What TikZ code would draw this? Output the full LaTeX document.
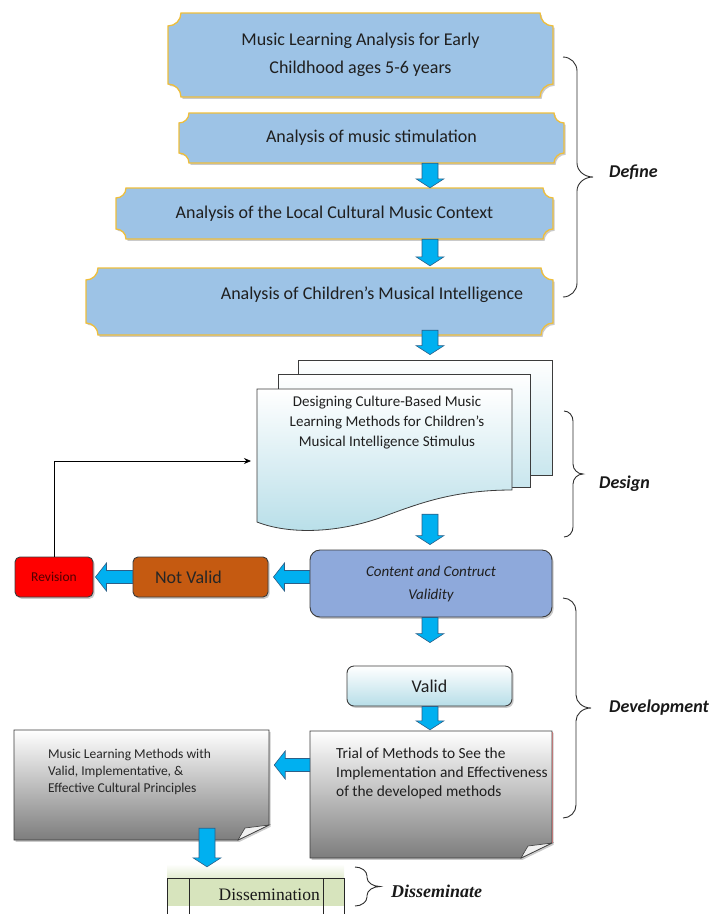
\documentclass[tikz,border=0pt]{standalone}
\usepackage{fontspec}
\setmainfont{Carlito}
\newfontfamily\tnr{Liberation Serif}
\usetikzlibrary{calc,shadows,arrows.meta}
\definecolor{plaqfill}{RGB}{157,195,230}
\definecolor{plaqline}{RGB}{238,190,60}
\definecolor{blkfill}{RGB}{0,176,240}
\definecolor{blkline}{RGB}{45,95,135}
\definecolor{docblue}{RGB}{183,222,232}
\definecolor{cvfill}{RGB}{142,169,219}
\definecolor{nvfill}{RGB}{197,90,17}
\definecolor{revtext}{RGB}{80,0,0}
\definecolor{grayb}{RGB}{125,125,125}
\definecolor{disgreen}{RGB}{215,228,189}
\definecolor{edge}{RGB}{60,60,60}
\definecolor{brcol}{RGB}{45,45,45}
\definecolor{redge}{RGB}{190,120,120}

\newcommand\plaque[5]{%
 \path[plaq] ({#1+#5},#2) -- ({#3-#5},#2)
 .. controls ({#3-#5},{#2+0.55*#5}) and ({#3-0.55*#5},{#2+#5}) .. (#3,{#2+#5})
 -- (#3,{#4-#5})
 .. controls ({#3-0.55*#5},{#4-#5}) and ({#3-#5},{#4-0.55*#5}) .. ({#3-#5},#4)
 -- ({#1+#5},#4)
 .. controls ({#1+#5},{#4-0.55*#5}) and ({#1+0.55*#5},{#4-#5}) .. (#1,{#4-#5})
 -- (#1,{#2+#5})
 .. controls ({#1+0.55*#5},{#2+#5}) and ({#1+#5},{#2+0.55*#5}) .. ({#1+#5},#2)
 -- cycle;}

\newcommand\foldbox[4]{%
 \path[foldb] (#1,#2) -- (#3,#2) -- (#3,{#4-15}) -- ({#3-31},#4) -- (#1,#4) -- cycle;
 \path[foldf] ({#3-31},#4) .. controls ({#3-27},{#4-7}) .. ({#3-24},{#4-12}) -- (#3,{#4-15}) -- cycle;}

\newcommand\wbrace[6]{%
 \draw[brc] (#1,#2) .. controls ({#1+0.55*#4},#2) and ({#1+#4},{#2+0.45*#6}) .. ({#1+#4},{#2+#6})
 -- ({#1+#4},{(#2+#3)/2-#6}) .. controls ({#1+#4},{(#2+#3)/2-0.45*#6}) and ({#1+#4+0.45*#5},{(#2+#3)/2}) .. ({#1+#4+#5},{(#2+#3)/2})
 .. controls ({#1+#4+0.45*#5},{(#2+#3)/2}) and ({#1+#4},{(#2+#3)/2+0.45*#6}) .. ({#1+#4},{(#2+#3)/2+#6})
 -- ({#1+#4},{#3-#6}) .. controls ({#1+#4},{#3-0.45*#6}) and ({#1+0.55*#4},#3) .. (#1,#3);}

\newcommand\blkdown[2]{%
 \path[blk] let \p1=#1, \p2=#2 in (\x1-8pt,\y1) -- (\x1+8pt,\y1) -- (\x1+8pt,\y2+9pt) -- (\x1+14pt,\y2+9pt) -- (\x1,\y2) -- (\x1-14pt,\y2+9pt) -- (\x1-8pt,\y2+9pt) -- cycle;}
\newcommand\blkleft[2]{%
 \path[blk] let \p1=#1, \p2=#2 in (\x1,\y1+6.5pt) -- (\x1,\y1-6.5pt) -- (\x2+11pt,\y1-6.5pt) -- (\x2+11pt,\y1-14pt) -- (\x2,\y1) -- (\x2+11pt,\y1+14pt) -- (\x2+11pt,\y1+6.5pt) -- cycle;}

\begin{document}
\begin{tikzpicture}[x=1pt,y=-1pt,
 shad/.style={drop shadow={shadow xshift=1.6pt,shadow yshift=-1.8pt,opacity=.35,fill=black!60}},
 plaq/.style={fill=plaqfill,draw=plaqline,line width=1.3pt,shad},
 ptext/.style={inner sep=0pt,align=center,font=\fontsize{18}{28}\selectfont,text=black!88},
 blk/.style={fill=blkfill,draw=blkline,line width=0.6pt,line join=miter},
 page/.style={draw=edge,line width=0.8pt,top color=white,bottom color=docblue!75,inner sep=0pt},
 foldb/.style={draw=edge,line width=0.9pt,top color=white,bottom color=grayb,shad},
 foldf/.style={draw=edge,line width=0.6pt,fill=white!88!gray},
 brc/.style={draw=brcol,line width=0.9pt},
 lbl/.style={font=\fontsize{18}{20}\selectfont\bfseries\itshape,inner sep=0pt,anchor=west,text=black!90},
 rbox/.style={draw=edge,line width=0.9pt,rounded corners=5pt,inner sep=0pt,shad},
 fbk/.style={draw=black,line width=0.8pt,-{Stealth[length=7pt,width=6pt]}},
 tline/.style={draw=black!85,line width=0.9pt}
]
\useasboundingbox (0,0) rectangle (716,914);

% ---------- Define ----------
\plaque{168}{13}{553}{97}{13}
\plaque{179}{113}{564}{163}{10}
\plaque{116}{188}{553}{239}{10}
\plaque{86}{268}{553}{335}{12}
\node[ptext,minimum width=385pt,minimum height=84pt] (b1) at (360.5,55) {Music Learning Analysis for Early\\Childhood ages 5-6 years};
\node[ptext,minimum width=385pt,minimum height=50pt] (b2) at (371.5,138) {Analysis of music stimulation};
\node[ptext,minimum width=437pt,minimum height=51pt] (b3) at (334.5,213.5) {Analysis of the Local Cultural Music Context};
\node[inner sep=0pt,minimum width=467pt,minimum height=67pt] (b4) at (319.5,301.5) {};
\node[ptext] (b4t) at (372,295) {Analysis of Children's Musical Intelligence};

\coordinate (ax) at (430,0);
\coordinate (mx) at (207,0);

% ---------- Design ----------
\node[page,minimum width=254pt,minimum height=115pt] (pg3) at (425,417.5) {};
\node[page,minimum width=252pt,minimum height=113pt] (pg2) at (404,430.5) {};
\path[draw=edge,line width=0.8pt,top color=white,bottom color=docblue]
 (257,389) -- (512,389) -- (512,490)
 .. controls (455,490) and (420,503) .. (385,516)
 .. controls (340,533) and (290,535) .. (257,522) -- cycle;
\node[inner sep=0pt,minimum width=255pt,minimum height=133pt] (doc) at (384.5,455.5) {};
\node[inner sep=0pt,align=center,font=\fontsize{15}{20}\selectfont,text=black!88] (doct) at (387,423) {Designing Culture-Based Music\\Learning Methods for Children's\\Musical Intelligence Stimulus};
\coordinate (docin) at (251,461);

% ---------- Validation ----------
\node[rbox,fill=cvfill,rounded corners=10pt,minimum width=242pt,minimum height=67pt,align=center,font=\fontsize{15}{23}\selectfont\itshape,text=black!88] (cv) at (431,583.5) {Content and Contruct\\Validity};
\node[rbox,fill=nvfill,minimum width=135pt,minimum height=40pt,font=\fontsize{18}{20}\selectfont,text=black!85] (nv) at (200.5,577) {\hspace*{-24pt}Not Valid};
\node[rbox,fill=red,minimum width=78pt,minimum height=40pt,font=\fontsize{13.5}{15}\selectfont,text=revtext] (rev) at (54,577) {Revision};
\node[rbox,rounded corners=7pt,top color=white,bottom color=docblue,minimum width=165pt,minimum height=40pt,font=\fontsize{18}{20}\selectfont,text=black!88] (va) at (429.5,686) {Valid};

% ---------- Development ----------
\foldbox{310}{731}{552}{858}
\draw[redge,line width=0.6pt] (552,732) -- (552,843);
\node[inner sep=0pt,minimum width=242pt,minimum height=127pt] (tr) at (431,794.5) {};
\node[inner sep=0pt,anchor=north west,align=left,font=\fontsize{15.4}{19}\selectfont,text=black!88] (trt) at (336,748) {Trial of Methods to See the\\Implementation and Effectiveness\\of the developed methods};
\foldbox{14}{730}{269}{840}
\node[inner sep=0pt,minimum width=255pt,minimum height=110pt] (mu) at (141.5,785) {};
\node[inner sep=0pt,anchor=north west,align=left,font=\fontsize{13.5}{17}\selectfont,text=black!85] (mut) at (48,749) {Music Learning Methods with\\Valid, Implementative, \&\\Effective Cultural Principles};

% ---------- Disseminate ----------
\path[top color=white,bottom color=disgreen!70] (167,864) rectangle (344,878);
\fill[disgreen] (167,878) rectangle (344,906);
\draw[tline] (167,914) -- (167,878) -- (344,878) -- (344,914);
\draw[tline] (189,878) -- (189,914);
\draw[tline] (323,878) -- (323,914);
\node[inner sep=0pt,minimum width=177pt,minimum height=36pt] (dis) at (255.5,896) {};
\node[inner sep=0pt,anchor=base east,font=\tnr\fontsize{17.5}{20}\selectfont,text=black!90] (dist) at (320,900) {Dissemination};

% ---------- Block arrows ----------
\blkdown{(ax |- b2.south)}{(ax |- b3.north)}
\blkdown{(ax |- b3.south)}{($(ax |- b4.north)+(0,-2)$)}
\blkdown{($(ax |- b4.south)+(0,-5)$)}{($(ax |- pg3.north)+(0,-5)$)}
\blkdown{($(ax |- doc.south)+(0,-8)$)}{($(ax |- cv.north)+(0,-5)$)}
\blkdown{(ax |- cv.south)}{($(ax |- va.north)+(0,-23)$)}
\blkdown{(ax |- va.south)}{($(ax |- tr.north)+(0,-1)$)}
\blkdown{($(mx |- mu.south)+(0,-12)$)}{($(mx |- dis.north)+(0,-11)$)}
\blkleft{(cv.west |- nv.east)}{($(nv.east)+(5,0)$)}
\blkleft{(nv.west)}{($(rev.east)+(2,0)$)}
\blkleft{($(tr.west)+(0,-29.5)$)}{($(mu.east |- tr.west)+(5,-29.5)$)}

% feedback
\draw[fbk] (rev.north) |- (docin);

% ---------- Braces and labels ----------
\wbrace{563}{57}{297}{14}{16}{14}
\wbrace{564}{411}{537}{9}{10}{10}
\wbrace{563}{598}{818}{13}{15}{13}
\wbrace{355}{867}{906}{12}{13}{9}
\node[lbl] (ldef) at (609,172) {Define};
\node[lbl] (ldes) at (599,484) {Design};
\node[lbl] (ldev) at (609,708) {Development};
\node[lbl,font=\tnr\fontsize{18}{20}\selectfont\bfseries\itshape] (ldis) at (391,891) {Disseminate};
\end{tikzpicture}
\end{document}
